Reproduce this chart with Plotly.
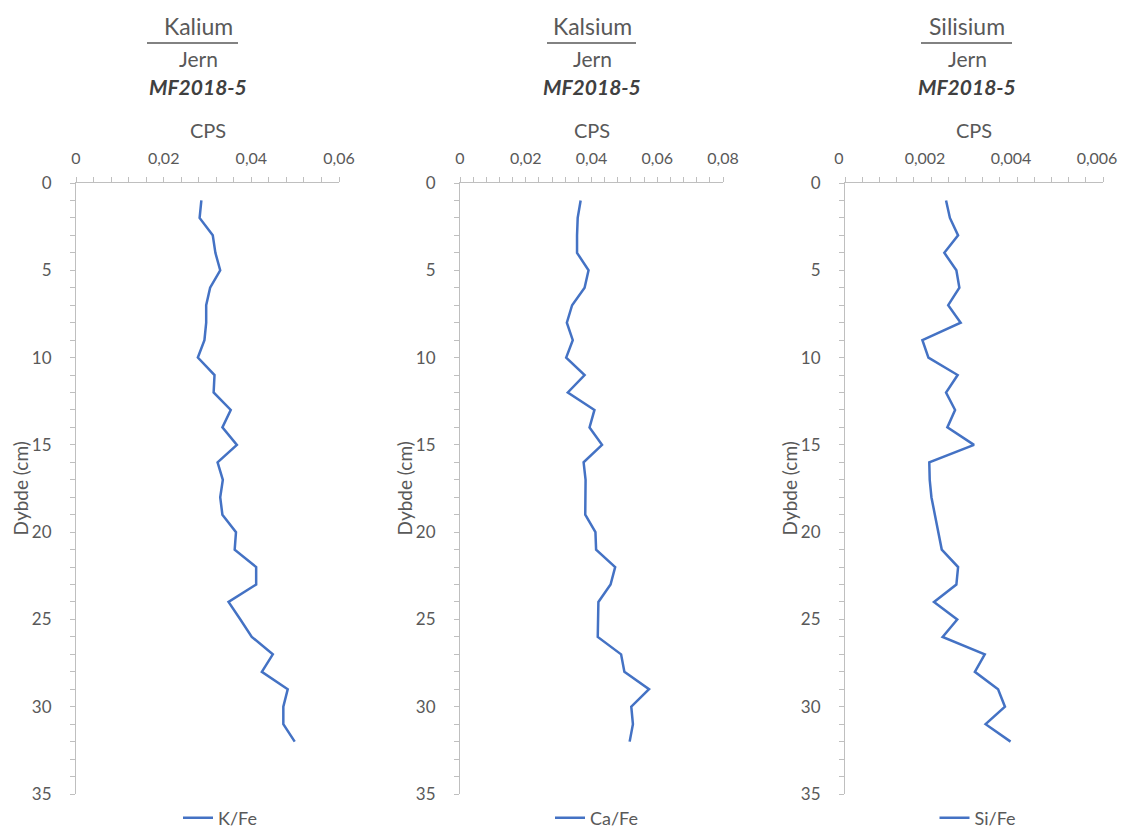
import plotly.graph_objects as go

# page viewport is 1126x829; the HTML body has an 8px margin,
# so the figure is placed at (8, 8) on the page.
PAGE_OFF = 8
W, H = 1126 - PAGE_OFF, 829 - PAGE_OFF

depth = list(range(1, 33))

k_fe = [0.0286, 0.0282, 0.0312, 0.0318, 0.0329, 0.0306, 0.0297, 0.0297,
        0.0293, 0.0278, 0.0316, 0.0314, 0.0353, 0.0334, 0.0367, 0.0323,
        0.0335, 0.0329, 0.0334, 0.0365, 0.0362, 0.0411, 0.0411, 0.0348,
        0.0375, 0.0401, 0.0449, 0.0424, 0.0483, 0.0473, 0.0473, 0.0499]

ca_fe = [0.0367, 0.0358, 0.0356, 0.0356, 0.0391, 0.0379, 0.0341, 0.0325,
         0.0343, 0.0323, 0.0379, 0.0328, 0.0409, 0.0394, 0.0432, 0.0376,
         0.0382, 0.0382, 0.0381, 0.0412, 0.0414, 0.0472, 0.0458, 0.0421,
         0.0419, 0.0419, 0.0490, 0.0500, 0.0575, 0.0521, 0.0526, 0.0516]

si_fe = [0.00235, 0.00244, 0.00263, 0.00231, 0.00259, 0.00266, 0.00240, 0.00269,
         0.00180, 0.00194, 0.00262, 0.00235, 0.00256, 0.00238, 0.00300, 0.00196,
         0.00197, 0.00201, 0.00209, 0.00217, 0.00225, 0.00263, 0.00259, 0.00207,
         0.00261, 0.00227, 0.00325, 0.00302, 0.00356, 0.00372, 0.00327, 0.00385]

series_names = ["K/Fe", "Ca/Fe", "Si/Fe"]
element_titles = ["Kalium", "Kalsium", "Silisium"]
denominator = "Jern"
core_name = "MF2018-5"
x_title = "CPS"
y_title = "Dybde (cm)"
x_max = [0.06, 0.08, 0.006]
x_major = [0.02, 0.02, 0.002]
y_max = 35

# layout geometry (page pixels)
axis_left = [76, 460, 845]
axis_right = [339, 723, 1103]
plot_top, plot_bottom = 183, 794
title_cx = [198, 592, 967]
frac_line = [(147, 238), (547, 636), (921, 1012)]
legend_cx = [220, 597, 978]
legend_cy = 818
xlabel_shift = [0, 0, -6]   # keep the right-most tick label inside the page

FONT = "Lato, Open Sans, sans-serif"
GRAY = "#595959"
AXIS = "#bfbfbf"
LINE = "#4472C4"


def px(x):
    return (x - PAGE_OFF) / W


def py(y):
    return 1 - (y - PAGE_OFF) / H


fig = go.Figure()
data = [k_fe, ca_fe, si_fe]
layout = {}
annotations = []
shapes = []

for i in range(3):
    sfx = "" if i == 0 else str(i + 1)
    fig.add_trace(go.Scatter(
        x=data[i], y=depth, mode="lines", name=series_names[i],
        line=dict(color=LINE, width=2.5),
        xaxis="x" + sfx, yaxis="y" + sfx,
        legend="legend" + sfx, showlegend=True,
    ))
    layout["xaxis" + sfx] = dict(
        domain=[px(axis_left[i]), px(axis_right[i])], anchor="y" + sfx,
        side="top", range=[0, x_max[i]], tick0=0, dtick=x_major[i],
        showline=True, linecolor=AXIS, linewidth=1,
        ticks="outside", ticklen=5, tickcolor=AXIS,
        minor=dict(dtick=x_major[i] / 5, ticks="outside", ticklen=5, tickcolor=AXIS),
        showgrid=False, zeroline=False, automargin=False,
        tickfont=dict(family=FONT, size=16, color=GRAY),
        ticklabelstandoff=7, ticklabeloverflow="allow",
        ticklabelshift=xlabel_shift[i],
    )
    layout["yaxis" + sfx] = dict(
        domain=[py(plot_bottom), py(plot_top)], anchor="x" + sfx,
        range=[y_max, 0], tick0=0, dtick=5,
        showline=True, linecolor=AXIS, linewidth=1,
        ticks="outside", ticklen=5, tickcolor=AXIS,
        minor=dict(dtick=1, ticks="outside", ticklen=5, tickcolor=AXIS),
        showgrid=False, zeroline=False, automargin=False,
        tickfont=dict(family=FONT, size=17, color=GRAY),
        ticklabelstandoff=15,
    )
    layout["legend" + sfx] = dict(
        x=px(legend_cx[i]), y=py(legend_cy), xanchor="center", yanchor="middle",
        orientation="h", font=dict(family=FONT, size=18, color=GRAY),
        bgcolor="rgba(0,0,0,0)", itemwidth=30,
    )
    # titles
    annotations += [
        dict(text=element_titles[i], x=px(title_cx[i]), y=py(26), xref="paper", yref="paper",
             xanchor="center", yanchor="middle", showarrow=False,
             font=dict(family=FONT, size=23, color=GRAY)),
        dict(text=denominator, x=px(title_cx[i]), y=py(59), xref="paper", yref="paper",
             xanchor="center", yanchor="middle", showarrow=False,
             font=dict(family=FONT, size=21, color=GRAY)),
        dict(text="<b><i>" + core_name + "</i></b>", x=px(title_cx[i]), y=py(87),
             xref="paper", yref="paper", xanchor="center", yanchor="middle", showarrow=False,
             font=dict(family=FONT, size=21, color="#404040")),
        dict(text=x_title, x=px((axis_left[i] + axis_right[i]) / 2), y=py(130),
             xref="paper", yref="paper", xanchor="center", yanchor="middle", showarrow=False,
             font=dict(family=FONT, size=20, color=GRAY)),
        dict(text=y_title, x=px(axis_left[i] - 56), y=py((plot_top + plot_bottom) / 2),
             xref="paper", yref="paper", xanchor="center", yanchor="middle", showarrow=False,
             textangle=-90, font=dict(family=FONT, size=19, color=GRAY)),
    ]
    shapes.append(dict(type="line", xref="paper", yref="paper",
                       x0=px(frac_line[i][0]), x1=px(frac_line[i][1]),
                       y0=py(43), y1=py(43), line=dict(color=GRAY, width=1.5)))

fig.update_layout(
    width=W, height=H, autosize=False,
    margin=dict(l=0, r=0, t=0, b=0, autoexpand=False),
    paper_bgcolor="white", plot_bgcolor="white",
    separators=", ",
    font=dict(family=FONT, color=GRAY),
    annotations=annotations, shapes=shapes,
    **layout,
)

fig.write_html("out.html")
